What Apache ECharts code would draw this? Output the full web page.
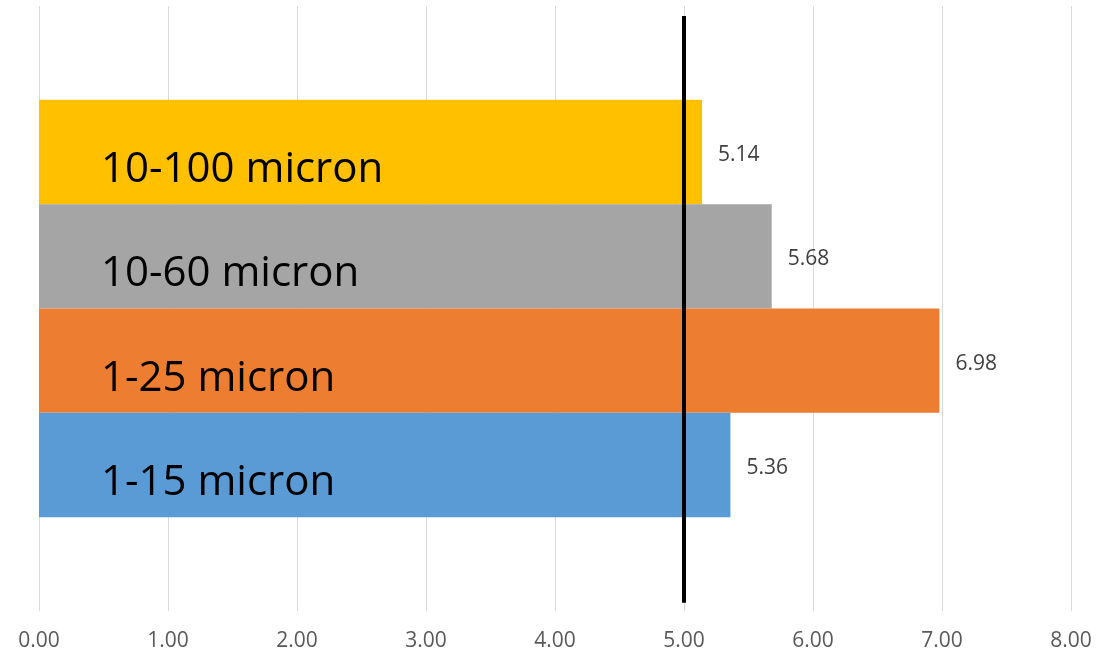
<!DOCTYPE html>
<html>
<head>
<meta charset="utf-8">
<script src="https://cdn.jsdelivr.net/npm/echarts@6/dist/echarts.min.js"></script>
<style>
html,body{margin:0;padding:0;background:#fff;}
#chart{width:1116px;height:652px;}
</style>
</head>
<body>
<div id="chart"></div>
<script>
// Data (bottom bar first)
const seriesNames = ['1-15 micron', '1-25 micron', '10-60 micron', '10-100 micron'];
const seriesValues = [5.36, 6.98, 5.68, 5.14];
const seriesColors = ['#5B9BD5', '#ED7D31', '#A5A5A5', '#FFC000'];
const xTicks = [0, 1, 2, 3, 4, 5, 6, 7, 8];
const refLineX = [5, 5];
const refLineY = [0, 1];

const FONT = '"Open Sans", "Liberation Sans", sans-serif';
const chart = echarts.init(document.getElementById('chart'), null, {renderer: 'canvas'});

const series = [];
// ECharts lays the first series at the top for a horizontal bar, so add them top-first
for (let i = seriesNames.length - 1; i >= 0; i--) {
  const name = seriesNames[i];
  series.push({
    name: name,
    type: 'bar',
    stack: 'g' + i,
    yAxisIndex: 0,
    barGap: '0%',
    barCategoryGap: '31%',
    data: [seriesValues[i]],
    itemStyle: {color: seriesColors[i]},
    label: {
      show: true,
      position: 'insideLeft',
      distance: 62,
      offset: [0, 18],
      formatter: name,
      color: '#000000',
      fontFamily: FONT,
      fontSize: 42
    },
    silent: true
  });
  series.push({
    name: name + ' value',
    type: 'bar',
    stack: 'g' + i,
    yAxisIndex: 0,
    barGap: '0%',
    barCategoryGap: '31%',
    data: [0],
    itemStyle: {color: 'rgba(0,0,0,0)'},
    label: {
      show: true,
      position: 'right',
      distance: 16,
      offset: [0, 3],
      formatter: function () { return seriesValues[i].toFixed(2); },
      color: '#404040',
      fontFamily: FONT,
      fontSize: 21
    },
    silent: true
  });
}

series.push({
  name: 'ref',
  type: 'line',
  yAxisIndex: 1,
  data: refLineX.map(function (x, k) { return [x, refLineY[k]]; }),
  symbol: 'none',
  lineStyle: {color: '#000000', width: 4},
  silent: true,
  z: 10
});

chart.setOption({
  animation: false,
  backgroundColor: '#ffffff',
  grid: {left: 39, right: 45, top: 6, bottom: 40, containLabel: false},
  xAxis: {
    type: 'value',
    min: xTicks[0],
    max: xTicks[xTicks.length - 1],
    interval: 1,
    axisLine: {show: false},
    axisTick: {show: false},
    splitLine: {show: true, lineStyle: {color: '#D9D9D9', width: 1}},
    axisLabel: {
      margin: 20,
      color: '#595959',
      fontFamily: FONT,
      fontSize: 21,
      formatter: function (v) { return v.toFixed(2); }
    }
  },
  yAxis: [
    {
      type: 'category',
      data: ['all'],
      axisLine: {show: false},
      axisTick: {show: false},
      axisLabel: {show: false},
      splitLine: {show: false}
    },
    {
      type: 'value',
      min: -0.014,
      max: 1.017,
      show: false,
      splitLine: {show: false}
    }
  ],
  series: series
});
</script>
</body>
</html>
